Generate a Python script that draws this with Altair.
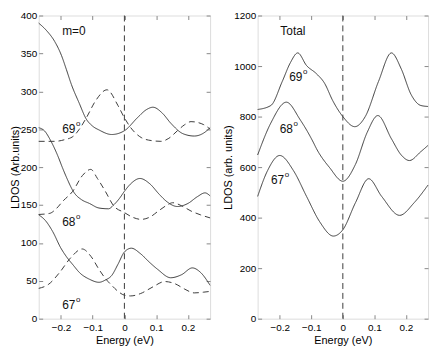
import altair as alt
import pandas as pd

# ---------------- data ----------------
# Left panel (m=0), solid and dashed curves for 69, 68, 67 degrees
m0_69_solid_x = [-0.27, -0.245, -0.22, -0.198, -0.183, -0.167, -0.142, -0.121, -0.1, -0.08, -0.04, 0.0, 0.043, 0.07, 0.09, 0.12, 0.146, 0.185, 0.22, 0.25, 0.27]
m0_69_solid_y = [390, 380, 366, 347, 329, 309, 284, 264, 254, 249, 243, 248, 266, 276, 279, 271, 258, 244, 241, 245, 252]
m0_69_dash_x = [-0.27, -0.22, -0.19, -0.16, -0.142, -0.12, -0.09, -0.055, -0.02, 0.0, 0.02, 0.053, 0.085, 0.115, 0.14, 0.167, 0.19, 0.21, 0.25, 0.27]
m0_69_dash_y = [234, 234, 236, 241, 250, 265, 288, 302, 281, 265, 252, 239, 235, 234, 238, 248, 256, 260, 256, 250]

m0_68_solid_x = [-0.27, -0.25, -0.235, -0.21, -0.195, -0.183, -0.158, -0.135, -0.11, -0.08, -0.05, -0.034, -0.015, 0.0, 0.02, 0.049, 0.08, 0.11, 0.135, 0.167, 0.2, 0.23, 0.254, 0.27]
m0_68_solid_y = [252, 247, 237, 215, 199, 187, 166, 157, 152, 146, 145, 150, 159, 168, 178, 185, 178, 164, 154, 148, 152, 161, 166, 162]
m0_68_dash_x = [-0.27, -0.235, -0.215, -0.194, -0.163, -0.132, -0.106, -0.085, -0.06, -0.034, 0.0, 0.025, 0.053, 0.08, 0.11, 0.135, 0.152, 0.18, 0.21, 0.24, 0.27]
m0_68_dash_y = [137.5, 139, 145, 155, 168, 189, 197, 185, 168, 149, 140, 134, 131, 134, 143, 150, 153, 149, 142, 137, 133]

m0_67_solid_x = [-0.27, -0.25, -0.226, -0.2, -0.183, -0.16, -0.142, -0.11, -0.08, -0.06, -0.04, -0.02, 0.0, 0.022, 0.05, 0.08, 0.105, 0.146, 0.18, 0.214, 0.24, 0.27]
m0_67_solid_y = [137, 130, 115, 93, 82, 70, 61, 52, 48, 51, 57, 72, 88, 93, 86, 74, 65, 54, 58, 67, 61, 44]
m0_67_dash_x = [-0.27, -0.24, -0.204, -0.17, -0.133, -0.105, -0.08, -0.06, -0.04, -0.02, 0.0, 0.02, 0.05, 0.09, 0.127, 0.16, 0.19, 0.22, 0.25, 0.27]
m0_67_dash_y = [40, 45, 61, 80, 92, 82, 65, 53, 44, 36, 31, 30, 33, 42, 49, 46, 39, 34, 35, 36]

# Right panel (Total)
tot_69_x = [-0.27, -0.228, -0.192, -0.166, -0.143, -0.115, -0.084, -0.058, -0.032, 0.0, 0.038, 0.071, 0.113, 0.154, 0.185, 0.216, 0.247, 0.27]
tot_69_y = [828, 844, 939, 1014, 1052, 1002, 970, 932, 863, 800, 760, 800, 939, 1052, 989, 888, 844, 840]
tot_68_x = [-0.27, -0.228, -0.179, -0.135, -0.094, -0.084, -0.042, 0.0, 0.04, 0.077, 0.111, 0.154, 0.185, 0.211, 0.247, 0.27]
tot_68_y = [648, 775, 857, 787, 699, 674, 598, 544, 611, 737, 804, 712, 648, 626, 661, 686]
tot_67_x = [-0.27, -0.239, -0.2, -0.156, -0.115, -0.073, -0.03, 0.0, 0.04, 0.082, 0.123, 0.18, 0.226, 0.27]
tot_67_y = [484, 585, 646, 585, 484, 383, 327, 352, 459, 554, 484, 409, 459, 529]

# Text labels
left_label_x = [-0.196, -0.196, -0.196, -0.196]
left_label_y = [380, 250, 128, 18.5]
left_label_text = ["m=0", "69", "68", "67"]
left_label_sup = ["", "o", "o", "o"]
right_label_x = [-0.198, -0.17, -0.2, -0.228]
right_label_y = [1140, 958, 749, 548]
right_label_text = ["Total", "69", "68", "67"]
right_label_sup = ["", "o", "o", "o"]

x_ticks = [-0.2, -0.1, 0.0, 0.1, 0.2]
left_y_ticks = [0, 50, 100, 150, 200, 250, 300, 350, 400]
right_y_ticks = [0, 200, 400, 600, 800, 1000, 1200]
fermi_energy = [0.0]

# ---------------- tables ----------------
def curves(items):
    rows = []
    for name, style, xs, ys in items:
        for i, (a, b) in enumerate(zip(xs, ys)):
            rows.append({"curve": name, "style": style, "x": a, "y": b, "o": i})
    return pd.DataFrame(rows)

left_df = curves([
    ("s69", "solid", m0_69_solid_x, m0_69_solid_y),
    ("d69", "dashed", m0_69_dash_x, m0_69_dash_y),
    ("s68", "solid", m0_68_solid_x, m0_68_solid_y),
    ("d68", "dashed", m0_68_dash_x, m0_68_dash_y),
    ("s67", "solid", m0_67_solid_x, m0_67_solid_y),
    ("d67", "dashed", m0_67_dash_x, m0_67_dash_y),
])
right_df = curves([
    ("t69", "solid", tot_69_x, tot_69_y),
    ("t68", "solid", tot_68_x, tot_68_y),
    ("t67", "solid", tot_67_x, tot_67_y),
])
left_lab = pd.DataFrame({"x": left_label_x, "y": left_label_y, "t": left_label_text, "s": left_label_sup})
right_lab = pd.DataFrame({"x": right_label_x, "y": right_label_y, "t": right_label_text, "s": right_label_sup})
fermi_df = pd.DataFrame({"x": fermi_energy})

FONT = "Liberation Sans"
LINE = "#3c3c3c"
INWARD = alt.ExprRef(expr="-4")
XDOM = [-0.27, 0.27]


def panel(df, lab, ydom, yticks, ytitle, w, h):
    xs = alt.Scale(domain=XDOM, nice=False, zero=False)
    ys = alt.Scale(domain=ydom, nice=False, zero=False)
    xaxis = alt.Axis(values=x_ticks, format=".1~f", title="Energy (eV)", grid=False,
                     tickSize=INWARD, labelPadding=8, titlePadding=2, domain=False,
                     titleFontWeight="normal", labelOverlap=False)
    yaxis = alt.Axis(values=yticks, format=".0f", title=ytitle, grid=False, tickSize=INWARD,
                     labelPadding=6, titlePadding=0, domain=False, titleFontWeight="normal",
                     labelOverlap=False, labelFlush=False, labelBound=False)
    lines = alt.Chart(df).mark_line(interpolate="monotone", strokeWidth=1, color=LINE).encode(
        x=alt.X("x:Q", scale=xs, axis=xaxis),
        y=alt.Y("y:Q", scale=ys, axis=yaxis),
        detail="curve:N",
        order="o:Q",
        strokeDash=alt.StrokeDash("style:N", scale=alt.Scale(domain=["solid", "dashed"], range=[[1, 0], [6, 4]]), legend=None),
    )
    box = alt.Chart(df).mark_point(opacity=0).encode(
        x=alt.X("x:Q", scale=xs, axis=alt.Axis(orient="top", values=x_ticks, labels=False, title=None,
                                                grid=False, tickSize=INWARD, domain=False)),
        y=alt.Y("y:Q", scale=ys, axis=alt.Axis(orient="right", values=yticks, labels=False, title=None,
                                                grid=False, tickSize=INWARD, domain=False)),
    )
    zero = alt.Chart(fermi_df).mark_rule(strokeDash=[6, 4], strokeWidth=1, color=LINE).encode(
        x=alt.X("x:Q", scale=xs, axis=None))
    txt = alt.Chart(lab).mark_text(align="left", baseline="middle", font=FONT, fontSize=12, color="#111").encode(
        x=alt.X("x:Q", scale=xs, axis=None), y=alt.Y("y:Q", scale=ys, axis=None), text="t:N")
    sup = alt.Chart(lab).transform_filter("datum.s != ''").mark_text(
        align="left", baseline="middle", font=FONT, fontSize=8, color="#111", dx=14, dy=-5).encode(
        x=alt.X("x:Q", scale=xs, axis=None), y=alt.Y("y:Q", scale=ys, axis=None), text="s:N")
    return alt.layer(lines, box, zero, txt, sup).resolve_axis(x="independent", y="independent").properties(width=w, height=h)


left = panel(left_df, left_lab, [0, 400], left_y_ticks, "LDOS (Arb.units)", 173, 306)
right = panel(right_df, right_lab, [0, 1200], right_y_ticks, "LDOS (arb. units)", 172, 306)

chart = alt.hconcat(left, right, spacing=8).properties(padding=0).configure_view(
    stroke="#333", strokeWidth=1
).configure_axis(
    labelFont=FONT, labelFontSize=11, labelColor="#111",
    titleFont=FONT, titleFontSize=12, titleFontWeight="normal", titleColor="#111",
    tickColor="#333",
).configure(background="white")

chart.save("out.html", embed_options={"renderer": "svg", "actions": False})
